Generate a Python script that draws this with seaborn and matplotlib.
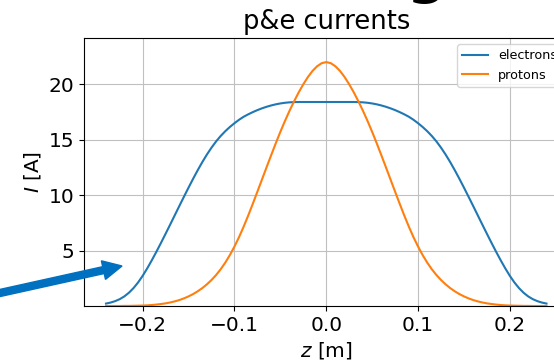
import matplotlib
matplotlib.use("Agg")
import matplotlib.pyplot as plt
from matplotlib.patches import FancyArrow
import seaborn as sns
import pandas as pd

# longitudinal position [m]
z = [-0.240, -0.235, -0.230, -0.225, -0.220, -0.215, -0.210, -0.205,
     -0.200, -0.195, -0.190, -0.185, -0.180, -0.175, -0.170, -0.165,
     -0.160, -0.155, -0.150, -0.145, -0.140, -0.135, -0.130, -0.125,
     -0.120, -0.115, -0.110, -0.105, -0.100, -0.095, -0.090, -0.085,
     -0.080, -0.075, -0.070, -0.065, -0.060, -0.055, -0.050, -0.045,
     -0.040, -0.035, -0.030, -0.025, -0.020, -0.015, -0.010, -0.005,
     0.000,
     0.005, 0.010, 0.015, 0.020, 0.025, 0.030, 0.035, 0.040,
     0.045, 0.050, 0.055, 0.060, 0.065, 0.070, 0.075, 0.080,
     0.085, 0.090, 0.095, 0.100, 0.105, 0.110, 0.115, 0.120,
     0.125, 0.130, 0.135, 0.140, 0.145, 0.150, 0.155, 0.160,
     0.165, 0.170, 0.175, 0.180, 0.185, 0.190, 0.195, 0.200,
     0.205, 0.210, 0.215, 0.220, 0.225, 0.230, 0.235, 0.240]

# electron beam current [A]
electrons = [0.22, 0.31, 0.44, 0.62, 0.87, 1.20, 1.62, 2.13,
             2.73, 3.41, 4.14, 4.91, 5.71, 6.53, 7.36, 8.20,
             9.04, 9.87, 10.69, 11.49, 12.26, 12.99, 13.67, 14.29,
             14.85, 15.34, 15.77, 16.15, 16.49, 16.80, 17.07, 17.29,
             17.49, 17.67, 17.83, 17.97, 18.09, 18.19, 18.27, 18.33,
             18.37, 18.39, 18.40, 18.40, 18.40, 18.40, 18.40, 18.40,
             18.40,
             18.40, 18.40, 18.40, 18.40, 18.40, 18.40, 18.39, 18.37,
             18.33, 18.27, 18.19, 18.09, 17.97, 17.83, 17.67, 17.49,
             17.29, 17.07, 16.80, 16.49, 16.15, 15.77, 15.34, 14.85,
             14.29, 13.67, 12.99, 12.26, 11.49, 10.69, 9.87, 9.04,
             8.20, 7.36, 6.53, 5.71, 4.91, 4.14, 3.41, 2.73,
             2.13, 1.62, 1.20, 0.87, 0.62, 0.44, 0.31, 0.22]

# proton beam current [A]
protons = [0.00, 0.00, 0.00, 0.00, 0.01, 0.01, 0.02, 0.03,
           0.04, 0.06, 0.09, 0.13, 0.18, 0.24, 0.32, 0.42,
           0.54, 0.69, 0.87, 1.08, 1.33, 1.62, 1.96, 2.35,
           2.80, 3.32, 3.92, 4.60, 5.37, 6.22, 7.16, 8.17,
           9.23, 10.32, 11.42, 12.52, 13.61, 14.68, 15.71, 16.69,
           17.61, 18.47, 19.27, 20.00, 20.65, 21.20, 21.62, 21.90,
           22.00,
           21.90, 21.62, 21.20, 20.65, 20.00, 19.27, 18.47, 17.61,
           16.69, 15.71, 14.68, 13.61, 12.52, 11.42, 10.32, 9.23,
           8.17, 7.16, 6.22, 5.37, 4.60, 3.92, 3.32, 2.80,
           2.35, 1.96, 1.62, 1.33, 1.08, 0.87, 0.69, 0.54,
           0.42, 0.32, 0.24, 0.18, 0.13, 0.09, 0.06, 0.04,
           0.03, 0.02, 0.01, 0.01, 0.00, 0.00, 0.00, 0.00]

series_names = ["electrons", "protons"]

df = pd.DataFrame({"z": z, "electrons": electrons, "protons": protons})

fig = plt.figure(figsize=(5.54, 3.62), dpi=100)
W, H = 554, 362
ax = fig.add_axes([84 / W, 56 / H, 484.5 / W, 268.3 / H])

palette = ["#1f77b4", "#ff7f0e"]
for name, color in zip(series_names, palette):
    sns.lineplot(data=df, x="z", y=name, ax=ax, color=color, label=name,
                 linewidth=1.5)

ax.set_ylim(0, 24.2)
ax.set_xlim(-0.264, 0.264)
ax.set_xticks([-0.2, -0.1, 0.0, 0.1, 0.2])
ax.set_yticks([5, 10, 15, 20])
ax.grid(True, color="#c0c0c0", linewidth=0.8)
ax.tick_params(labelsize=14.5)
ax.set_xlabel("$z$ [m]", fontsize=14.5)
ax.set_ylabel("$I$ [A]", fontsize=14.5)
ax.set_title("p&e currents", fontsize=18.5)
ax.legend(loc="upper right", fontsize=9.2)

# slide heading fragment above the chart
fig.text(426 / W, 1 + 8 / H, "g", fontsize=40, fontweight="bold",
         color="black", ha="center", va="baseline")

# pointer arrow from the slide
px = 1 / fig.dpi
arrow = FancyArrow(-10 * px, (H - 295.2) * px, 132 * px, 29.2 * px,
                   width=7 * px, head_width=19 * px, head_length=19 * px,
                   length_includes_head=True, color="#0070C0",
                   transform=fig.dpi_scale_trans)
fig.add_artist(arrow)

fig.savefig("out.png", dpi=100)
